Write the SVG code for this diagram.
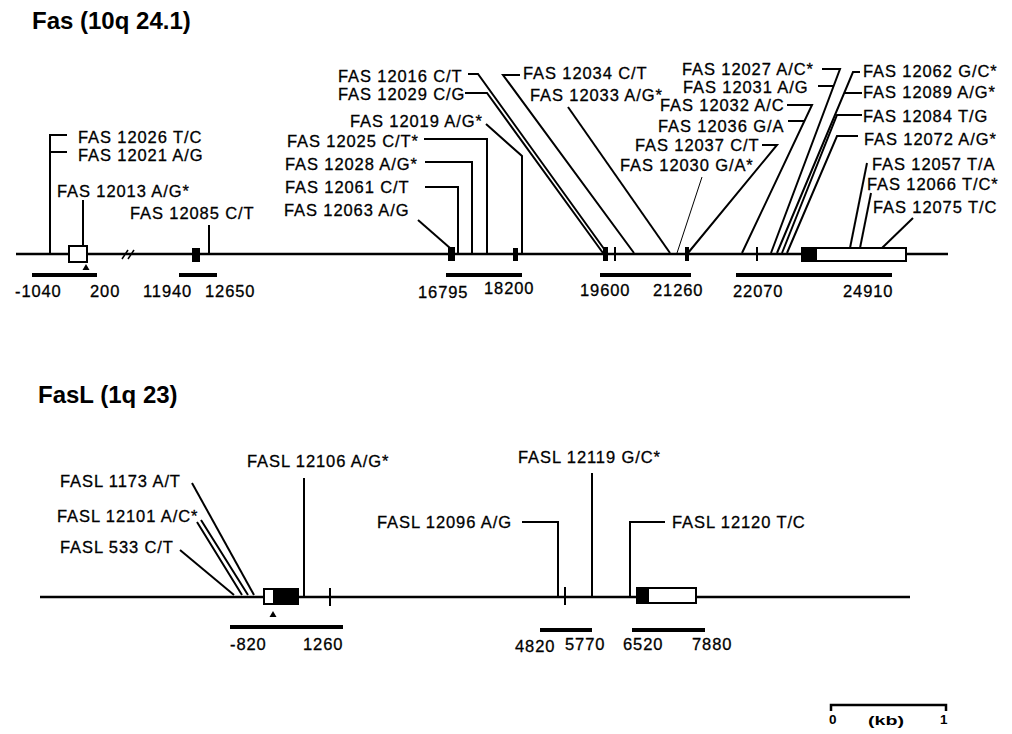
<svg xmlns="http://www.w3.org/2000/svg" width="1012" height="734" viewBox="0 0 1012 734">
<style>
.t{font-family:"Liberation Sans",Arial,sans-serif;font-size:16.5px;letter-spacing:0.9px;fill:#000;stroke:#000;stroke-width:0.3}
.ttl{font-family:"Liberation Sans",Arial,sans-serif;font-size:24px;font-weight:bold;fill:#000}
.sc{font-family:"Liberation Sans",Arial,sans-serif;font-size:13.5px;font-weight:bold;fill:#000}
.c{stroke:#000;stroke-width:2;fill:none}
.thin{stroke:#000;stroke-width:1;fill:none}
.axis{stroke:#000;stroke-width:2.5;fill:none}
.bar{stroke:#000;stroke-width:4;fill:none}
.ex{fill:#000}
.ut{fill:#fff;stroke:#000;stroke-width:2}
</style>
<rect width="1012" height="734" fill="#fff"/>

<g id="fas-title"><text class="ttl" x="32" y="29">Fas (10q 24.1)</text></g>
<g id="fasl-title"><text class="ttl" x="38" y="403">FasL (1q 23)</text></g>

<g id="fas-gene">
<line class="axis" x1="16" y1="254" x2="948" y2="254"/>
<line class="thin" x1="122" y1="259" x2="128" y2="250" style="stroke-width:1.5"/>
<line class="thin" x1="128" y1="259" x2="134" y2="250" style="stroke-width:1.5"/>
<rect class="ut" x="69" y="246" width="18" height="16"/>
<polygon class="ex" points="82.5,270 89.5,270 86,264"/>
<rect class="ex" x="192" y="248" width="8" height="14"/>
<rect class="ex" x="448" y="247" width="7" height="14"/>
<rect class="ex" x="513" y="248" width="5" height="13"/>
<rect class="ex" x="603" y="247" width="5" height="14"/>
<line class="c" x1="615" y1="247" x2="615" y2="261"/>
<rect class="ex" x="685" y="247" width="4" height="14"/>
<line class="c" x1="757" y1="247" x2="757" y2="261"/>
<rect class="ut" x="816" y="248" width="90" height="13"/>
<rect class="ex" x="801" y="247" width="15" height="15"/>
</g>

<g id="fas-ranges">
<line class="bar" x1="32" y1="275" x2="97" y2="275"/>
<line class="bar" x1="179" y1="275" x2="217" y2="275"/>
<line class="bar" x1="446" y1="275" x2="522" y2="275"/>
<line class="bar" x1="600" y1="275" x2="691" y2="275"/>
<line class="bar" x1="736" y1="275" x2="892" y2="275"/>
<text class="t" x="15" y="297">-1040</text>
<text class="t" x="90" y="297">200</text>
<text class="t" x="143" y="297">11940</text>
<text class="t" x="205" y="297">12650</text>
<text class="t" x="418" y="298">16795</text>
<text class="t" x="484" y="294">18200</text>
<text class="t" x="580" y="296">19600</text>
<text class="t" x="653" y="296">21260</text>
<text class="t" x="733" y="297">22070</text>
<text class="t" x="843" y="297">24910</text>
</g>

<g id="fas-snps">
<text class="t" x="78" y="143">FAS 12026 T/C</text>
<text class="t" x="78" y="161">FAS 12021 A/G</text>
<text class="t" x="57" y="197">FAS 12013 A/G*</text>
<text class="t" x="130" y="219">FAS 12085 C/T</text>
<text class="t" x="338" y="82">FAS 12016 C/T</text>
<text class="t" x="338" y="100">FAS 12029 C/G</text>
<text class="t" x="350" y="127">FAS 12019 A/G*</text>
<text class="t" x="287" y="147">FAS 12025 C/T*</text>
<text class="t" x="285" y="170">FAS 12028 A/G*</text>
<text class="t" x="285" y="193">FAS 12061 C/T</text>
<text class="t" x="284" y="216">FAS 12063 A/G</text>
<text class="t" x="523" y="79">FAS 12034 C/T</text>
<text class="t" x="530" y="101">FAS 12033 A/G*</text>
<text class="t" x="682" y="75">FAS 12027 A/C*</text>
<text class="t" x="683" y="93">FAS 12031 A/G</text>
<text class="t" x="660" y="111">FAS 12032 A/C</text>
<text class="t" x="658" y="132">FAS 12036 G/A</text>
<text class="t" x="635" y="151">FAS 12037 C/T</text>
<text class="t" x="620" y="171">FAS 12030 G/A*</text>
<text class="t" x="863" y="77">FAS 12062 G/C*</text>
<text class="t" x="863" y="98">FAS 12089 A/G*</text>
<text class="t" x="863" y="122">FAS 12084 T/G</text>
<text class="t" x="864" y="145">FAS 12072 A/G*</text>
<text class="t" x="872" y="170">FAS 12057 T/A</text>
<text class="t" x="867" y="190">FAS 12066 T/C*</text>
<text class="t" x="873" y="213">FAS 12075 T/C</text>
</g>

<g id="fasl-gene">
<line class="axis" x1="40" y1="597" x2="910" y2="597"/>
<rect class="ut" x="264" y="589" width="10" height="15"/>
<rect class="ex" x="274" y="588" width="25" height="17"/>
<polygon class="ex" points="269.5,617 276.5,617 273,611"/>
<line class="c" x1="330" y1="588" x2="330" y2="606"/>
<line class="c" x1="565" y1="587" x2="565" y2="605"/>
<rect class="ut" x="648" y="588" width="48" height="15"/>
<rect class="ex" x="636" y="587" width="12" height="17"/>
</g>

<g id="fasl-ranges">
<line class="bar" x1="230" y1="627" x2="343" y2="627"/>
<line class="bar" x1="540" y1="630" x2="592" y2="630"/>
<line class="bar" x1="632" y1="630" x2="705" y2="630"/>
<text class="t" x="230" y="650">-820</text>
<text class="t" x="303" y="650">1260</text>
<text class="t" x="515" y="652">4820</text>
<text class="t" x="565" y="650">5770</text>
<text class="t" x="623" y="650">6520</text>
<text class="t" x="692" y="650">7880</text>
</g>

<g id="fasl-snps">
<text class="t" x="247" y="467">FASL 12106 A/G*</text>
<text class="t" x="60" y="487">FASL 1173 A/T</text>
<text class="t" x="57" y="522">FASL 12101 A/C*</text>
<text class="t" x="60" y="553">FASL 533 C/T</text>
<text class="t" x="518" y="463">FASL 12119 G/C*</text>
<text class="t" x="377" y="528">FASL 12096 A/G</text>
<text class="t" x="672" y="528">FASL 12120 T/C</text>
</g>

<g id="connectors">
<path class="c" d="M67,135 H50 V254 M50,152 H67"/>
<path class="c" d="M83,200 V246"/>
<path class="c" d="M209,225 V254"/>
<path class="c" d="M468,74 H478 L607,253"/>
<path class="c" d="M465,93 H487 L603,253"/>
<path class="c" d="M486,124 L522,156 V254"/>
<path class="c" d="M424,139 H487 V254"/>
<path class="c" d="M425,162 H472 V254"/>
<path class="c" d="M425,187 H458 V254"/>
<path class="c" d="M418,220 L450,248"/>
<path class="c" d="M520,75 H503 L634,253"/>
<path class="c" d="M568,107 L670,253"/>
<path class="thin" d="M702,177 L677,253"/>
<path class="c" d="M762,145 H777 L688,253"/>
<path class="c" d="M787,105 H812 L742,253"/>
<path class="c" d="M788,121 H804"/>
<path class="c" d="M822,69 H840 L771,253"/>
<path class="c" d="M818,86 H834"/>
<path class="c" d="M860,72 H853 L777,253"/>
<path class="c" d="M862,93 H844"/>
<path class="c" d="M862,115 H837 L782,253"/>
<path class="c" d="M858,136 H837 L787,253"/>
<path class="c" d="M867,163 L850,248"/>
<path class="c" d="M871,193 L860,248"/>
<path class="c" d="M913,218 L882,248"/>
<path class="c" d="M192,483 L254,595"/>
<path class="c" d="M197,522 L242,595 M201,520 L248,595"/>
<path class="c" d="M180,550 L234,595"/>
<path class="c" d="M304,478 V597"/>
<path class="c" d="M592,473 V597"/>
<path class="c" d="M522,522 H558 V597"/>
<path class="c" d="M665,522 H630 V597"/>
</g>

<g id="scale-bar">
<path class="axis" d="M831,711 V705 H946 V711"/>
<text class="sc" x="829" y="724">0</text>
<text class="sc" x="868" y="725" textLength="36" lengthAdjust="spacingAndGlyphs">(kb)</text>
<text class="sc" x="940" y="724">1</text>
</g>
</svg>
